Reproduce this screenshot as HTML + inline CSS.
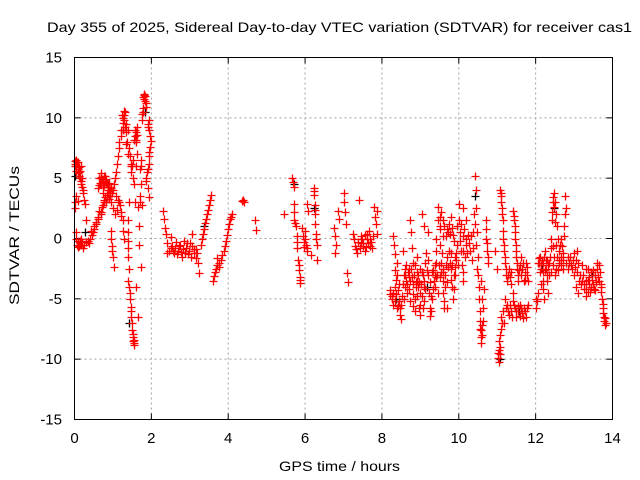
<!DOCTYPE html>
<html><head><meta charset="utf-8"><style>
html,body{margin:0;padding:0;background:#fff;}
svg{display:block;font-family:"Liberation Sans",sans-serif;}
</style></head><body>
<svg id="chart" width="640" height="480" viewBox="0 0 640 480">
<text x="47" y="32" font-size="14" textLength="585" lengthAdjust="spacingAndGlyphs" fill="#000">Day 355 of 2025, Sidereal Day-to-day VTEC variation (SDTVAR) for receiver cas1</text>
<text x="279" y="471" font-size="14" textLength="121" lengthAdjust="spacingAndGlyphs">GPS time / hours</text>
<text transform="translate(19,305) rotate(-90)" font-size="14" textLength="139" lengthAdjust="spacingAndGlyphs">SDTVAR / TECUs</text>
<g id="grid"></g>
<g id="ticks"></g>
<g id="blackmarks"></g>
<g id="redmarks"></g>
<rect x="74.5" y="57.5" width="538" height="362" fill="none" stroke="#000" stroke-width="1"/>
</svg>
<script>
const xTicks = [0,2,4,6,8,10,12,14];
const yTicks = [-15,-10,-5,0,5,10,15];
const xDomain = [0,14];
const yDomain = [-15,15];

const arcEarly = [[0,6.4],[0.02,6.2],[0.03,6.5],[0.05,6.0],[0.08,5.8],[0.1,6.3],[0.12,5.5],[0.14,5.0],[0.16,6.0],[0.18,4.8],[0.2,4.3],[0.23,4.0],[0.08,3.1],[0.28,2.9],[0.0,3.0],[0.02,2.5],[0.04,0.0],[0.06,-0.5],[0.1,-0.7],[0.14,-0.2],[0.18,-0.5],[0.22,-0.8],[0.37,-0.4],[0.3,1.5],[0.35,-0.2],[0.45,0.3],[0.5,0.8],[0.55,1.2],[0.6,1.6],[0.68,2.0],[0.72,2.6],[0.78,3.2],[0.85,3.6],[0.9,4.0],[1.0,4.0],[1.05,5.0],[1.1,6.2],[1.15,7.5],[1.2,8.5],[1.25,9.6],[1.28,10.6],[1.3,10.2],[1.35,9.5],[1.38,9.0],[1.42,7.5],[1.46,6.2]];
const arcEarlyFill = [[0.01,6.0],[0.04,5.6],[0.06,6.3],[0.09,5.4],[0.11,5.9],[0.13,5.2],[0.15,5.6],[0.17,4.5],[0.19,5.0],[0.21,3.8],[0.25,3.2],[0.03,3.5],[0.05,0.5],[0.08,-0.2],[0.12,-0.6],[0.16,0.0],[0.2,-0.3],[0.25,-0.5],[0.3,-0.3],[0.4,0.0],[0.42,0.6],[0.47,0.5],[0.52,1.0],[0.57,1.4],[0.62,1.8],[0.65,2.3],[0.7,2.2],[0.74,2.8],[0.76,3.0],[0.8,3.4],[0.82,3.0],[0.88,3.8],[0.92,3.5],[0.96,4.2],[0.98,3.8],[1.02,4.5],[1.07,5.5],[1.12,6.8],[1.17,8.0],[1.22,9.0],[1.24,10.2],[1.26,10.0],[1.29,9.8],[1.32,9.2],[1.34,8.8],[1.37,8.0],[1.4,7.0],[1.44,6.8],[1.48,6.0],[1.27,9.0],[1.31,10.5],[1.33,7.8]];
const arcCluster = [[0.62,4.2],[0.65,5.0],[0.68,5.4],[0.7,4.6],[0.72,4.9],[0.75,4.8],[0.78,4.4],[0.8,5.2],[0.83,4.5],[0.86,4.0],[0.9,4.6],[0.94,4.2],[0.9,3.3],[0.95,0.6],[0.97,-0.6],[1.0,-1.5],[1.02,-2.4],[1.25,1.5],[1.27,0.6],[1.28,0.0],[1.1,2.4],[1.15,3.0],[1.2,2.2],[0.66,4.6],[0.7,5.1],[0.73,4.3],[0.76,5.2],[0.79,4.8],[0.82,4.9],[0.85,4.6],[0.88,4.3],[0.92,4.0],[0.64,4.4],[0.74,3.8],[0.84,3.4],[0.96,3.0],[1.0,2.5],[1.05,2.0],[1.08,3.5],[1.12,3.2],[1.18,2.8],[1.22,1.9],[0.98,-1.0],[0.96,0.0]];
const arcDip = [[1.38,-0.2],[1.4,-1.5],[1.4,-3.5],[1.44,-4.5],[1.46,-5.7],[1.48,-6.5],[1.5,-7.6],[1.52,-8.2],[1.54,-8.7],[1.56,-8.4],[1.65,2.6],[1.67,1.0],[1.69,-0.5],[1.72,-2.4],[1.6,-4.0],[1.65,-6.5],[1.55,8.2],[1.58,9.0],[1.6,8.0],[1.62,8.6],[1.52,6.5],[1.48,5.5],[1.55,4.5],[1.39,-0.8],[1.41,-2.5],[1.43,-4.0],[1.45,-5.0],[1.47,-6.0],[1.49,-7.0],[1.51,-7.9],[1.53,-8.5],[1.55,-8.8],[1.42,3.0],[1.4,1.5],[1.39,0.5],[1.57,8.5],[1.59,8.8],[1.61,8.2],[1.63,9.2],[1.5,6.0],[1.53,5.0],[1.57,3.0],[1.6,6.0],[1.63,7.0]];
const arcPeak = [[1.8,12.0],[1.82,11.6],[1.85,11.2],[1.78,10.8],[1.75,10.3],[1.9,9.5],[1.93,9.8],[1.98,8.1],[1.95,7.2],[1.93,6.2],[1.88,5.5],[1.85,4.8],[1.9,4.2],[1.93,3.4],[1.7,5.8],[1.72,6.5],[1.7,3.5],[1.75,2.8],[1.79,11.7],[1.81,11.9],[1.83,11.4],[1.84,11.8],[1.86,10.9],[1.77,10.5],[1.76,9.8],[1.91,9.2],[1.94,9.0],[1.96,8.5],[1.97,7.6],[1.94,6.8],[1.92,5.8],[1.87,5.0],[1.74,6.0],[1.72,4.5],[1.71,3.0]];
const arcSecond = [[2.3,2.3],[2.32,1.6],[2.35,0.9],[2.38,0.4],[2.4,-0.4],[2.42,-1.2],[2.5,0.1],[2.55,-0.6],[2.6,-1.2],[2.65,-0.3],[2.7,-1.0],[2.75,-0.5],[2.8,-1.5],[2.85,-0.2],[2.9,-0.8],[2.95,-1.3],[3.0,-0.4],[3.05,0.4],[3.1,-0.9],[3.15,-1.6],[3.2,-1.2],[3.22,-2.0],[3.25,-2.9],[3.3,-0.5],[3.35,0.4],[3.4,1.3],[3.45,2.0],[3.5,2.8],[3.55,3.6],[3.02,-1.5],[2.62,-0.8],[2.45,-1.0],[3.6,-3.5],[3.65,-2.8],[3.7,-2.2],[3.72,-1.6],[3.75,-2.4],[3.8,-1.8],[3.9,-1.0],[3.95,-0.2],[4.0,0.8],[4.05,1.6],[4.1,2.0],[4.37,3.1],[4.4,3.0],[4.7,1.5],[4.72,0.7],[2.52,-0.8],[2.57,-1.0],[2.67,-1.3],[2.72,-0.6],[2.77,-1.1],[2.82,-0.9],[2.87,-1.2],[2.92,-0.4],[2.97,-1.0],[3.07,-0.6],[3.12,-1.2],[3.17,-0.9],[3.32,0.0],[3.37,0.8],[3.42,1.6],[3.47,2.4],[3.52,3.2],[3.62,-3.1],[3.67,-2.5],[3.77,-2.0],[3.85,-1.4],[3.92,-0.6],[3.98,0.3],[4.03,1.2],[4.08,1.8],[4.38,3.2]];
const arcMid = [[5.44,2.0],[5.67,5.0],[5.7,4.3],[5.7,2.9],[5.72,2.2],[5.72,1.5],[5.76,1.0],[5.78,0.2],[5.8,-0.8],[5.82,-1.8],[5.84,-2.6],[5.86,-3.2],[5.88,-3.7],[5.92,0.9],[5.94,0.2],[5.96,-0.3],[5.98,-0.7],[6.0,0.6],[6.02,-0.5],[6.06,-1.0],[6.06,2.9],[6.08,2.3],[6.15,-1.4],[6.22,4.2],[6.24,3.6],[6.25,2.8],[6.26,2.0],[6.27,1.2],[6.28,0.4],[6.3,-0.5],[6.3,-1.8],[6.75,0.9],[6.77,0.2],[6.8,-0.5],[6.78,-1.2],[6.85,2.3],[6.87,1.6],[7.0,3.8],[7.02,3.0],[7.05,2.2],[7.07,1.2],[7.1,-2.9],[7.12,-3.6],[7.26,0.4],[7.3,-0.6],[7.35,-1.2],[7.4,3.2],[7.45,0.2],[7.5,-0.6],[7.55,-1.0],[7.6,0.4],[7.65,-0.4],[7.7,0.0],[7.8,2.6],[7.82,1.8],[7.84,1.2],[7.86,2.3],[7.88,0.4],[7.75,-0.8],[5.68,4.7],[5.74,1.3],[5.79,-0.3],[5.83,-2.2],[5.87,-3.4],[6.01,0.0],[6.04,-0.8],[6.23,3.9],[6.26,2.4],[6.29,0.0],[7.28,0.0],[7.32,-0.9],[7.38,-0.3],[7.42,-0.8],[7.48,0.0],[7.52,-0.4],[7.58,-0.7],[7.62,0.0],[7.68,-0.6],[7.72,-0.3],[7.78,0.2],[7.66,0.6],[7.56,0.3],[7.46,-0.4]];
const arcLate1 = [[8.3,0.2],[8.32,-0.5],[8.35,-1.3],[8.38,-2.0],[8.4,-3.0],[8.42,-4.3],[8.45,-5.2],[8.48,-6.3],[8.5,-6.7],[8.2,-4.3],[8.25,-4.8],[8.28,-5.5],[8.35,-4.0],[8.4,-5.8],[8.55,-1.0],[8.6,-2.5],[8.62,-3.5],[8.65,-4.5],[8.7,-3.2],[8.72,1.5],[8.75,0.5],[8.78,-0.8],[8.8,-2.0],[8.82,-3.8],[8.85,-5.0],[8.88,-4.0],[8.9,-2.8],[8.92,-1.5],[8.95,-3.0],[8.98,-4.5],[9.0,-5.5],[9.05,-4.8],[9.1,-3.5],[9.12,-2.0],[9.15,-1.2],[9.2,-3.0],[9.22,-4.5],[9.25,-5.8],[9.28,-6.0],[9.3,-5.0],[9.35,-3.5],[9.38,-2.2],[9.4,-1.0],[9.42,0.0],[9.45,1.5],[9.47,2.6],[9.5,1.0],[9.52,-0.5],[9.55,-2.0],[9.58,-3.5],[9.6,-4.5],[9.62,-5.2],[9.65,-3.0],[9.7,-1.5],[9.72,0.5],[9.75,-1.0],[9.8,-2.5],[9.82,-4.0],[9.85,-5.0],[9.88,-4.2],[9.9,-3.0],[9.92,-1.8],[9.95,-0.5]];
const arcLate1Fill = [[8.22,-4.6],[8.27,-5.0],[8.3,-4.5],[8.33,-5.2],[8.37,-4.6],[8.43,-5.6],[8.46,-5.8],[8.5,-5.5],[8.52,-4.8],[8.55,-3.8],[8.57,-3.0],[8.6,-4.0],[8.63,-2.2],[8.66,-3.8],[8.68,-2.8],[8.71,-4.2],[8.73,-3.5],[8.76,-2.5],[8.79,-3.2],[8.81,-4.6],[8.84,-3.0],[8.87,-2.2],[8.89,-3.6],[8.91,-4.8],[8.94,-4.0],[8.97,-3.6],[9.02,-3.8],[9.04,-2.8],[9.07,-3.0],[9.09,-5.2],[9.13,-4.2],[9.17,-2.6],[9.19,-1.8],[9.24,-3.6],[9.27,-4.8],[9.32,-4.2],[9.34,-2.6],[9.37,-4.0],[9.39,-3.0],[9.41,-2.0],[9.44,-3.0],[9.48,-2.2],[9.5,-3.2],[9.53,-2.8],[9.57,-1.2],[9.59,-2.8],[9.63,-4.0],[9.67,-2.2],[9.69,-3.6],[9.73,-2.4],[9.77,-2.0],[9.79,-3.4],[9.83,-2.2],[9.87,-3.0],[9.91,-2.4],[9.94,-1.2],[9.97,-2.2],[8.34,-2.6],[8.36,-3.4],[8.44,-3.8],[8.58,-5.0],[8.74,-5.2],[8.86,-6.0],[8.96,-5.8],[9.08,-5.8],[9.26,-6.4],[9.61,-5.8]];
const arcLate2 = [[8.6,-3.0],[8.7,-2.5],[8.9,-3.5],[9.0,-2.5],[9.1,-4.0],[9.3,-2.8],[9.4,-3.2],[9.6,-2.5],[9.8,-1.2],[9.9,-1.5],[10.1,-1.0],[9.2,0.5],[9.05,2.0],[9.1,1.0],[9.7,-5.8],[9.45,-4.5],[8.8,-5.6],[9.0,-6.3],[9.55,2.2],[9.6,1.5],[9.8,1.8],[9.85,0.3],[10.2,1.5],[10.1,2.5],[10.0,2.9],[10.0,1.5],[10.02,0.5],[10.05,-1.0],[10.08,-2.2],[10.1,-3.5],[10.12,-2.8],[10.15,-1.5],[10.2,-0.5],[10.25,0.3],[10.3,-1.0],[10.35,-1.8],[10.38,0.5],[10.4,2.0],[10.43,5.2],[10.44,4.0],[10.45,2.5],[10.47,0.5],[10.5,-1.5],[10.52,-4.0],[10.54,-6.0],[10.56,-7.5],[10.58,-8.7],[10.6,-8.0],[10.62,-6.8],[10.58,-3.5],[10.6,-5.0],[10.7,1.5],[10.72,0.0],[10.74,-1.0],[10.75,-2.0],[9.5,1.8],[9.52,0.8],[9.58,0.2],[9.62,1.0],[9.66,0.2],[9.7,0.8],[9.74,1.2],[9.78,0.4],[9.82,0.9],[9.88,-0.2],[9.96,1.0],[10.03,-0.2],[10.06,1.2],[10.1,0.2],[10.14,0.8],[10.18,0.0],[10.22,-1.2],[10.27,-0.4],[10.32,0.2],[10.36,-0.8],[10.41,1.2],[10.46,-0.5],[10.48,-2.5],[10.51,-3.0],[10.53,-5.0],[10.55,-6.8],[10.57,-8.2],[10.59,-7.6],[10.61,-7.2],[10.63,-5.8],[10.65,-4.2],[10.71,0.8],[10.73,-0.4],[10.76,-1.5]];
const arcLate3 = [[10.95,-1.0],[11.0,-2.5],[11.02,-9.5],[11.05,-10.2],[11.07,-9.0],[11.1,-7.5],[11.05,-8.5],[11.08,4.0],[11.1,3.5],[11.12,2.5],[11.14,1.5],[11.15,0.0],[11.17,-1.0],[11.2,-2.0],[11.22,-3.0],[11.25,-3.5],[11.3,-2.5],[11.35,-3.8],[11.4,-4.5],[11.42,2.3],[11.44,1.5],[11.46,0.5],[11.48,-0.5],[11.5,-1.5],[11.52,-2.5],[11.55,-3.0],[11.6,-2.2],[11.62,-1.5],[11.65,-2.5],[11.7,-3.5],[11.72,-2.8],[11.75,-2.0],[11.78,-3.0],[11.8,-3.5],[11.2,-5.0],[11.25,-5.5],[11.3,-6.3],[11.35,-6.0],[11.4,-5.2],[11.45,-5.8],[11.5,-6.5],[11.55,-6.0],[11.6,-5.5],[11.65,-6.2],[11.7,-5.8],[11.75,-6.5],[11.8,-5.5],[11.18,-7.0],[11.1,-6.5],[11.03,-9.9],[11.04,-9.2],[11.06,-9.6],[11.08,-8.0],[11.09,3.8],[11.11,3.0],[11.13,2.0],[11.16,0.6],[11.18,-0.5],[11.21,-1.5],[11.23,-2.5],[11.27,-3.0],[11.32,-3.2],[11.37,-2.8],[11.43,1.9],[11.45,1.0],[11.47,0.0],[11.49,-1.0],[11.51,-2.0],[11.53,-3.5],[11.57,-2.6],[11.63,-3.0],[11.67,-2.0],[11.73,-3.4],[11.77,-2.4],[11.22,-5.8],[11.28,-6.0],[11.33,-5.5],[11.38,-6.5],[11.43,-5.5],[11.48,-6.0],[11.53,-5.6],[11.58,-6.4],[11.63,-5.8],[11.68,-6.6],[11.73,-6.0],[11.78,-5.8],[11.15,-6.0],[11.12,-7.0]];
const arcLate4 = [[12.0,-5.0],[12.02,-5.8],[12.05,-4.5],[12.1,-2.0],[12.12,-1.5],[12.15,-2.5],[12.18,-3.5],[12.2,-2.0],[12.25,-1.0],[12.28,-2.5],[12.3,-3.5],[12.32,-4.5],[12.35,-3.0],[12.38,-1.5],[12.4,0.0],[12.42,1.5],[12.45,3.0],[12.47,3.8],[12.5,3.0],[12.52,2.0],[12.55,1.0],[12.57,0.0],[12.6,-1.0],[12.62,-2.0],[12.65,0.0],[12.67,-1.5],[12.7,-2.5],[12.72,-1.2],[12.75,1.0],[12.77,3.5],[12.78,2.5],[12.3,-1.8],[12.45,-2.2],[12.5,-3.0],[12.2,-4.2],[12.85,-2.5],[12.9,-1.5],[12.95,-2.5],[13.0,-3.0],[13.05,-1.8],[13.08,-1.0],[13.1,-2.0],[13.15,-3.0],[13.2,-3.5],[13.25,-4.2],[13.3,-3.5],[13.35,-2.5],[13.4,-3.2],[13.45,-4.0],[13.5,-3.8],[13.55,-3.0],[13.6,-2.5],[13.65,-3.5],[13.7,-4.0],[13.72,-5.0],[13.75,-5.8],[13.78,-6.5],[13.8,-7.2],[13.05,-4.0],[13.1,-4.5],[13.3,-4.8],[13.4,-3.8],[13.55,-4.3],[13.6,-2.0],[13.3,-2.5],[13.0,-1.2],[13.2,-2.2]];
const arcLate4Fill = [[12.06,-2.0],[12.08,-1.6],[12.11,-2.8],[12.13,-2.2],[12.16,-1.8],[12.19,-2.8],[12.22,-1.5],[12.24,-2.6],[12.26,-1.8],[12.29,-3.0],[12.33,-2.2],[12.36,-2.0],[12.39,-2.8],[12.41,-0.8],[12.43,2.2],[12.44,-0.6],[12.46,3.4],[12.48,2.6],[12.49,-1.5],[12.51,1.4],[12.53,-0.5],[12.54,-2.5],[12.56,-1.5],[12.58,-2.6],[12.61,-1.8],[12.63,-0.5],[12.66,-2.2],[12.69,-0.6],[12.71,-1.8],[12.74,0.2],[12.76,2.0],[12.8,-2.0],[12.83,-1.5],[12.87,-2.0],[12.92,-2.2],[12.97,-1.8],[13.02,-2.4],[13.07,-2.8],[13.12,-3.5],[13.17,-3.8],[13.22,-3.0],[13.27,-3.8],[13.32,-4.2],[13.37,-3.4],[13.42,-4.4],[13.47,-3.4],[13.52,-4.2],[13.57,-3.6],[13.62,-3.2],[13.67,-2.8],[13.69,-3.8],[13.71,-4.4],[13.74,-5.4],[13.76,-6.2],[13.79,-6.8],[13.81,-6.6],[13.82,-7.0],[13.35,-4.4],[13.45,-2.8],[13.5,-2.6],[13.65,-2.2],[12.14,-3.8],[12.21,-5.0],[12.04,-5.2]];
const blackPts = [[0.05,5.2],[0.3,0.5],[0.9,4.5],[1.3,9.0],[1.45,-7.0],[1.85,10.5],[3.4,1.0],[5.75,4.5],[6.25,2.5],[8.4,-5.0],[9.2,-4.0],[10.45,3.5],[11.1,-10.0],[12.5,2.5],[13.5,-3.0],[11.6,-6.0],[12.2,-2.5]];

const L=74.5,R=612.5,T=57.5,B=419.5;
function sx(t){return L+(t-xDomain[0])/(xDomain[1]-xDomain[0])*(R-L);}
function sy(v){return B-(v-yDomain[0])/(yDomain[1]-yDomain[0])*(B-T);}
const NS="http://www.w3.org/2000/svg";
function mk(tag,attrs,parent){const e=document.createElementNS(NS,tag);for(const k in attrs)e.setAttribute(k,attrs[k]);parent.appendChild(e);return e;}
const grid=document.getElementById('grid'),ticks=document.getElementById('ticks');
xTicks.forEach(t=>{
  const x=sx(t);
  if(t>xDomain[0]&&t<xDomain[1]){
    const g=mk('line',{x1:x,x2:x,y1:T,y2:B,stroke:'#a0a0a0','stroke-dasharray':'2,3'},grid);
    
    
  }
  mk('line',{x1:x,x2:x,y1:B,y2:B-6,stroke:'#000'},ticks);
  mk('line',{x1:x,x2:x,y1:T,y2:T+6,stroke:'#000'},ticks);
  const lb=mk('text',{x:x,y:443,'font-size':15,'text-anchor':'middle'},ticks);
  lb.textContent=t;
  
  
});
yTicks.forEach(v=>{
  const y=sy(v);
  if(v>yDomain[0]&&v<yDomain[1]){
    const g=mk('line',{x1:L,x2:R,y1:y,y2:y,stroke:'#a0a0a0','stroke-dasharray':'2,3'},grid);
    
    
  }
  mk('line',{x1:L,x2:L+6,y1:y,y2:y,stroke:'#000'},ticks);
  mk('line',{x1:R,x2:R-6,y1:y,y2:y,stroke:'#000'},ticks);
  const lb=mk('text',{x:62,y:y+5,'font-size':15,'text-anchor':'end'},ticks);
  lb.textContent=v;
  
  
});
function drawPlus(p,parent,color,dx){
  const x=Math.round(sx(p[0]))+0.5+dx,y=Math.round(sy(p[1]))+0.5;
  const m=mk('path',{d:`M${x-4},${y}H${x+4}M${x},${y-4}V${y+4}`,stroke:color,'stroke-width':1.3,fill:'none'},parent);
  
  
}
const bg=document.getElementById('blackmarks'),rg=document.getElementById('redmarks');
blackPts.forEach(p=>drawPlus(p,bg,'#000',-1));
[arcEarly,arcEarlyFill,arcCluster,arcDip,arcPeak,arcSecond,arcMid,arcLate1,arcLate1Fill,arcLate2,arcLate3,arcLate4,arcLate4Fill].forEach(a=>a.forEach(p=>drawPlus(p,rg,'#ff0000',0)));
</script>
</body></html>
